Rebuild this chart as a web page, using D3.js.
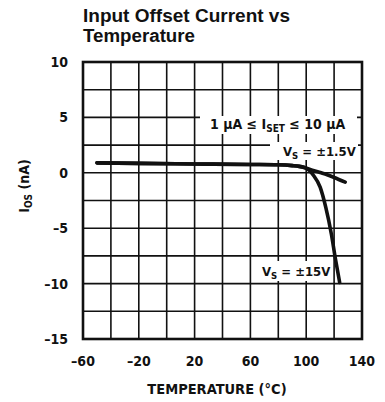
<!DOCTYPE html>
<html>
<head>
<meta charset="utf-8">
<script src="https://cdn.jsdelivr.net/npm/d3@7"></script>
<style>
  body { margin: 0; background: #fff; }
  text { font-family: "Liberation Sans Narrow", "DejaVu Sans Condensed", "Liberation Sans", sans-serif; font-weight: bold; fill: #111; }
</style>
</head>
<body>
<div id="chart"></div>
<script>
// data
const xTicks = [-60, -20, 20, 60, 100, 140];
const yTicks = [10, 5, 0, -5, -10, -15];
const tempLow = [-50, -20, 20, 60, 80, 90, 95, 100, 105, 110, 115, 120, 128];
const iosLow = [0.9, 0.85, 0.8, 0.75, 0.72, 0.65, 0.58, 0.42, 0.22, 0.02, -0.18, -0.42, -0.84];
const tempHigh = [-50, -20, 20, 60, 80, 90, 95, 100, 105, 110, 114, 118, 121, 124];
const iosHigh = [0.9, 0.85, 0.8, 0.75, 0.72, 0.65, 0.58, 0.42, -0.2, -1.3, -3.1, -5.5, -7.8, -9.9];

const width = 385, height = 402;
const margin = { left: 83, right: 23, top: 62, bottom: 63 };

const svg = d3.select("#chart").append("svg").attr("width", width).attr("height", height);

const x = d3.scaleLinear().domain([-60, 140]).range([margin.left, width - margin.right]);
const y = d3.scaleLinear().domain([-15, 10]).range([height - margin.bottom, margin.top]);

// grid
svg.append("g").selectAll("line").data(d3.range(-40, 140, 20)).join("line")
    .attr("x1", d => x(d)).attr("x2", d => x(d))
    .attr("y1", y(10)).attr("y2", y(-15))
    .attr("stroke", "#111").attr("stroke-width", 1.6);
svg.append("g").selectAll("line").data(d3.range(-12.5, 10, 2.5)).join("line")
    .attr("x1", x(-60)).attr("x2", x(140))
    .attr("y1", d => y(d)).attr("y2", d => y(d))
    .attr("stroke", "#111").attr("stroke-width", 1.6);

// white patches behind the labels
const boxes = [[200, 116, 157, 18], [270, 142, 88, 18], [258, 261, 73, 20]];
svg.append("g").selectAll("rect").data(boxes).join("rect")
    .attr("x", d => d[0]).attr("y", d => d[1]).attr("width", d => d[2]).attr("height", d => d[3])
    .attr("fill", "#fff");

// frame
svg.append("rect")
    .attr("x", x(-60)).attr("y", y(10))
    .attr("width", x(140) - x(-60)).attr("height", y(-15) - y(10))
    .attr("fill", "none").attr("stroke", "#111").attr("stroke-width", 2.6);

// curves
const line = d3.line().x(d => x(d[0])).y(d => y(d[1])).curve(d3.curveMonotoneX);
svg.append("path").datum(tempLow.map((t, i) => [t, iosLow[i]]))
    .attr("d", line).attr("fill", "none").attr("stroke", "#111").attr("stroke-width", 3.6).attr("stroke-linecap", "round");
svg.append("path").datum(tempHigh.map((t, i) => [t, iosHigh[i]]))
    .attr("d", line).attr("fill", "none").attr("stroke", "#111").attr("stroke-width", 3.6).attr("stroke-linecap", "round");

// tick labels
const fmt = d => d < 0 ? "\u2013" + Math.abs(d) : String(d);
svg.append("g").selectAll("text").data(yTicks).join("text")
    .attr("x", 68).attr("y", d => y(d) + 5)
    .attr("text-anchor", "end").style("font-size", "14px")
    .text(fmt);
svg.append("g").selectAll("text").data(xTicks).join("text")
    .attr("x", d => x(d)).attr("y", 366)
    .attr("text-anchor", "middle").style("font-size", "14px")
    .text(fmt);

// title
svg.append("text").attr("x", 83).attr("y", 22)
    .attr("textLength", 207).attr("lengthAdjust", "spacingAndGlyphs")
    .style("font-family", "'Liberation Sans', sans-serif").style("font-size", "17.5px")
    .text("Input Offset Current vs");
svg.append("text").attr("x", 83).attr("y", 42)
    .attr("textLength", 112).attr("lengthAdjust", "spacingAndGlyphs")
    .style("font-family", "'Liberation Sans', sans-serif").style("font-size", "17.5px")
    .text("Temperature");

// axis titles
svg.append("text").attr("x", 217).attr("y", 394)
    .attr("text-anchor", "middle").style("font-size", "14.5px")
    .text("TEMPERATURE (\u00B0C)");
const yTitle = svg.append("text").attr("transform", "translate(29,186) rotate(-90)")
    .attr("text-anchor", "middle").style("font-size", "14px");
yTitle.append("tspan").text("I");
yTitle.append("tspan").attr("dy", 3).style("font-size", "10px").text("OS");
yTitle.append("tspan").attr("dy", -3).text(" (nA)");

// annotations
const note1 = svg.append("text").attr("x", 210).attr("y", 129).style("font-size", "14px");
note1.append("tspan").text("1 \u00B5A \u2264 I");
note1.append("tspan").attr("dy", 3).style("font-size", "10px").text("SET");
note1.append("tspan").attr("dy", -3).text(" \u2264 10 \u00B5A");

const note2 = svg.append("text").attr("x", 283).attr("y", 156).style("font-size", "13px");
note2.append("tspan").text("V");
note2.append("tspan").attr("dy", 3).style("font-size", "9.5px").text("S");
note2.append("tspan").attr("dy", -3).text(" = \u00B11.5V");

const note3 = svg.append("text").attr("x", 262).attr("y", 276).style("font-size", "13px");
note3.append("tspan").text("V");
note3.append("tspan").attr("dy", 3).style("font-size", "9.5px").text("S");
note3.append("tspan").attr("dy", -3).text(" = \u00B115V");
</script>
</body>
</html>
